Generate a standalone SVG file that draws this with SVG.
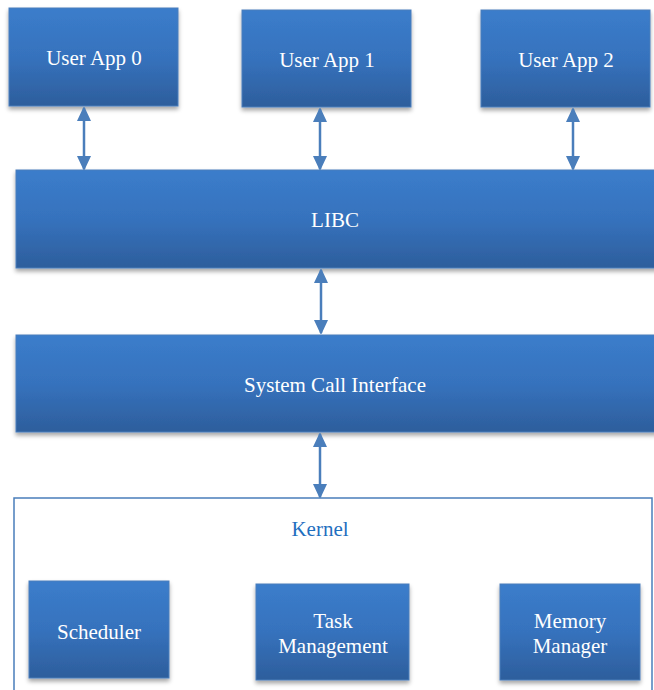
<svg xmlns="http://www.w3.org/2000/svg" width="654" height="690" viewBox="0 0 654 690">
<defs>
<linearGradient id="g" x1="0" y1="0" x2="0" y2="1">
<stop offset="0" stop-color="#3b7dcb"/>
<stop offset="0.5" stop-color="#3672bd"/>
<stop offset="1" stop-color="#2d5e9c"/>
</linearGradient>
<filter id="sh" x="-5%" y="-5%" width="110%" height="120%">
<feDropShadow dx="0" dy="3" stdDeviation="2" flood-color="#000" flood-opacity="0.35"/>
</filter>
<marker id="ah" viewBox="0 0 14 15" refX="13" refY="7" markerWidth="14" markerHeight="15" orient="auto-start-reverse" markerUnits="userSpaceOnUse">
<path d="M0,0 L15,7 L0,14 Z" fill="#4a7ebb"/>
</marker>
</defs>
<style>
.box{fill:url(#g);stroke:#4a7ebb;stroke-width:1;filter:url(#sh)}
text{font-family:'Liberation Serif','Times New Roman',serif;font-size:21px;text-anchor:middle}
.t{fill:#ffffff}
.k{fill:#1f6fbf}
.c{stroke:#4a7ebb;stroke-width:2.5;fill:none;marker-start:url(#ah);marker-end:url(#ah)}
</style>
<rect width="654" height="690" fill="#ffffff"/>
<g id="kernel">
<rect x="14" y="498" width="638" height="200" fill="#ffffff" stroke="#4a7ebb" stroke-width="1.5"/>
<text class="k" x="320" y="536">Kernel</text>
</g>
<g id="app0"><rect class="box" x="9" y="8" width="169" height="98"/><text class="t" x="94" y="65">User App 0</text></g>
<g id="app1"><rect class="box" x="242" y="10" width="169" height="97"/><text class="t" x="327" y="67">User App 1</text></g>
<g id="app2"><rect class="box" x="481" y="10" width="169" height="97"/><text class="t" x="566" y="67">User App 2</text></g>
<g id="libc"><rect class="box" x="16" y="170" width="645" height="98"/><text class="t" x="335" y="227">LIBC</text></g>
<g id="sci"><rect class="box" x="16" y="335" width="645" height="97"/><text class="t" x="335" y="392">System Call Interface</text></g>
<g id="scheduler"><rect class="box" x="29" y="581" width="140" height="97"/><text class="t" x="99" y="639">Scheduler</text></g>
<g id="task"><rect class="box" x="256" y="584" width="153" height="96"/><text class="t" x="333" y="628">Task</text><text class="t" x="333" y="653">Management</text></g>
<g id="mem"><rect class="box" x="500" y="584" width="140" height="96"/><text class="t" x="570" y="628">Memory</text><text class="t" x="570" y="653">Manager</text></g>
<g id="connectors">
<line class="c" x1="84" y1="108" x2="84" y2="169"/>
<line class="c" x1="320" y1="109" x2="320" y2="169"/>
<line class="c" x1="573" y1="109" x2="573" y2="169"/>
<line class="c" x1="321" y1="270" x2="321" y2="333"/>
<line class="c" x1="320" y1="434" x2="320" y2="497"/>
</g>
</svg>
